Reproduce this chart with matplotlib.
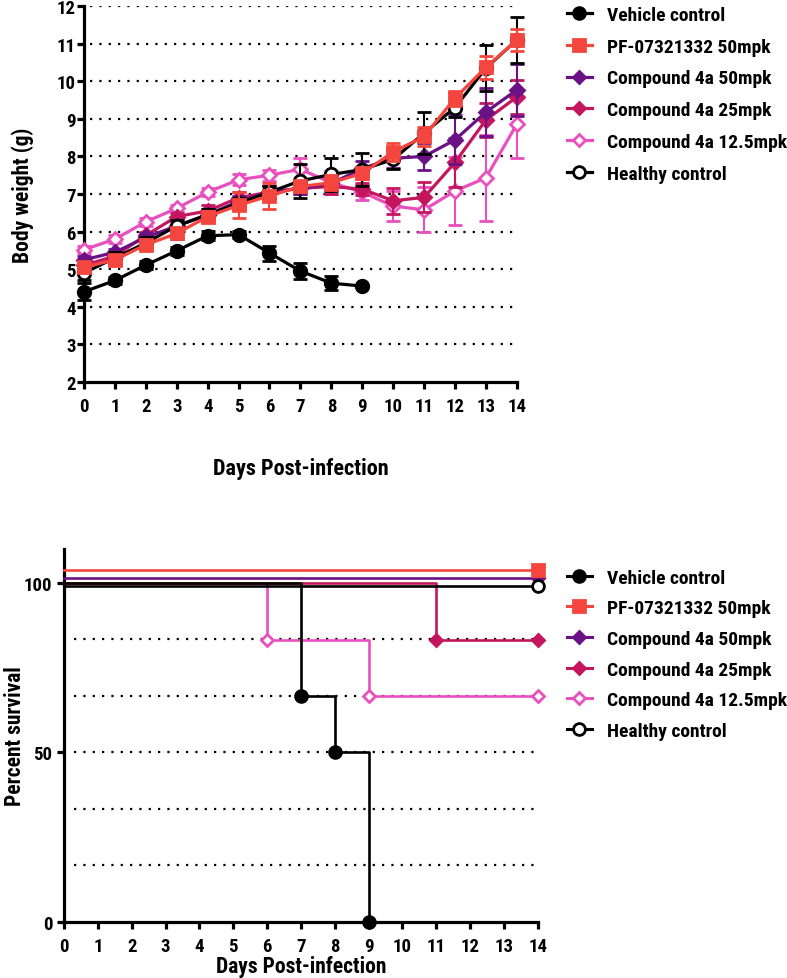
import numpy as np
import matplotlib
matplotlib.use("Agg")
import matplotlib.pyplot as plt
import matplotlib.transforms as mtransforms
from matplotlib.lines import Line2D
from matplotlib import font_manager

# fuente condensada si existe, si no Liberation Sans
_disp = set(f.name for f in font_manager.fontManager.ttflist)
_fams = [f for f in ['Roboto Condensed', 'Liberation Sans Narrow', 'Arial Narrow', 'Archivo Narrow',
                     'PT Sans Narrow', 'Liberation Sans'] if f in _disp]
plt.rcParams['font.family'] = _fams + ['DejaVu Sans']
plt.rcParams['font.weight'] = 'bold'

# Datos del peso corporal (g) por dia
dias = list(range(15))

series = ["Vehicle control", "PF-07321332 50mpk", "Compound 4a 50mpk",
          "Compound 4a 25mpk", "Compound 4a 12.5mpk", "Healthy control"]

peso_vehiculo = [4.40, 4.70, 5.11, 5.49, 5.89, 5.92, 5.43, 4.95, 4.63, 4.55]
err_vehiculo = [0.22, 0.10, 0.10, 0.10, 0.12, 0.10, 0.20, 0.22, 0.18, 0.0]

peso_pf = [5.05, 5.25, 5.65, 5.95, 6.40, 6.70, 6.95, 7.20, 7.30, 7.55, 8.12, 8.53, 9.55, 10.37, 11.10]
err_pf = [0.10, 0.10, 0.12, 0.15, 0.15, 0.35, 0.35, 0.15, 0.20, 0.15, 0.25, 0.25, 0.20, 0.30, 0.30]

peso_4a50 = [5.25, 5.45, 5.85, 6.15, 6.45, 6.80, 7.05, 7.15, 7.28, 7.68, 7.95, 8.00, 8.44, 9.18, 9.77]
err_4a50 = [0.10, 0.10, 0.10, 0.10, 0.15, 0.15, 0.15, 0.15, 0.15, 0.20, 0.25, 0.35, 0.65, 0.65, 0.70]

peso_4a25 = [5.10, 5.35, 5.90, 6.40, 6.55, 6.90, 7.05, 7.15, 7.20, 7.13, 6.82, 6.91, 7.84, 8.97, 9.58]
err_4a25 = [0.10, 0.10, 0.10, 0.10, 0.15, 0.15, 0.15, 0.15, 0.20, 0.15, 0.35, 0.40, 0.65, 0.45, 0.45]

peso_4a12 = [5.52, 5.80, 6.26, 6.62, 7.05, 7.38, 7.50, 7.66, 7.30, 7.05, 6.68, 6.58, 7.08, 7.43, 8.86]
err_4a12 = [0.10, 0.10, 0.10, 0.10, 0.10, 0.15, 0.15, 0.30, 0.30, 0.20, 0.40, 0.60, 0.90, 1.15, 0.90]

peso_sano = [4.90, 5.30, 5.70, 6.15, 6.45, 6.75, 7.05, 7.35, 7.52, 7.65, 7.92, 8.62, 9.30, 10.35, 11.10]
err_sano = [0.20, 0.15, 0.15, 0.15, 0.15, 0.15, 0.15, 0.45, 0.45, 0.45, 0.25, 0.55, 0.25, 0.62, 0.62]

# Supervivencia (%)
surv_dias_vehiculo = [0, 7, 8, 9]
surv_vehiculo = [100, 66.7, 50, 0]
surv_dias_pf = [0, 14]
surv_pf = [100, 100]
surv_dias_4a50 = [0, 14]
surv_4a50 = [100, 100]
surv_dias_4a25 = [0, 11, 14]
surv_4a25 = [100, 83.3, 83.3]
surv_dias_4a12 = [0, 6, 9, 14]
surv_4a12 = [100, 83.3, 66.7, 66.7]
surv_dias_sano = [0, 14]
surv_sano = [100, 100]

# estilos
colores = ['black', '#F4463F', '#6A1185', '#C4165E', '#E851BD', 'black']
marcadores = ['o', 's', 'D', 'D', 'D', 'o']
rellenos = ['black', '#F4463F', '#6A1185', '#C4165E', 'white', 'white']
tam_marc = [8.5, 8.5, 6.5, 6.5, 6.5, 8.5]
orden = [6, 9, 5, 4, 3, 7]
# desplazamiento vertical (puntos) como en el grafico de supervivencia original
desplazamiento = [0, 9.5, 3.6, 0, 0, -2.5]

pesos = [peso_vehiculo, peso_pf, peso_4a50, peso_4a25, peso_4a12, peso_sano]
errores = [err_vehiculo, err_pf, err_4a50, err_4a25, err_4a12, err_sano]
surv_dias = [surv_dias_vehiculo, surv_dias_pf, surv_dias_4a50, surv_dias_4a25, surv_dias_4a12, surv_dias_sano]
survs = [surv_vehiculo, surv_pf, surv_4a50, surv_4a25, surv_4a12, surv_sano]

fig = plt.figure(figsize=(7.87, 9.79), dpi=100)


def estilo_ejes(ax, pad_y):
    for s in ['top', 'right']:
        ax.spines[s].set_visible(False)
    for s in ['left', 'bottom']:
        ax.spines[s].set_linewidth(2.3)
    ax.tick_params(width=2.3, length=5, labelsize=13.5, direction='out')
    ax.tick_params(axis='x', pad=6)
    ax.tick_params(axis='y', pad=pad_y)
    for lab in ax.get_xticklabels() + ax.get_yticklabels():
        lab.set_fontweight('bold')


def handles_leyenda(lw):
    hs = []
    for i in range(len(series)):
        hs.append(Line2D([0], [0], color=colores[i], lw=lw, marker=marcadores[i],
                         markersize=tam_marc[i], markerfacecolor=rellenos[i],
                         markeredgecolor=colores[i], markeredgewidth=2))
    return hs


# ---- grafico de peso ----
ax1 = fig.add_axes([0.1067, 0.6088, 0.550, 0.384])
ax1.hlines(range(3, 13), 0.2, 14, colors='black', linestyles=(0, (1, 3.2)), linewidth=1.6, zorder=1)
for i in range(len(series)):
    x = dias[:len(pesos[i])]
    ax1.errorbar(x, pesos[i], yerr=errores[i], color=colores[i], lw=2.3,
                 marker=marcadores[i], markersize=tam_marc[i] + 0.5,
                 markerfacecolor=rellenos[i], markeredgecolor=colores[i],
                 markeredgewidth=2, capsize=5, elinewidth=1.5, capthick=1.5,
                 zorder=orden[i], clip_on=False)
ax1.set_xlim(0, 14)
ax1.set_ylim(2, 12)
ax1.set_xticks(dias)
ax1.set_yticks(range(2, 13))
estilo_ejes(ax1, 1)
ax1.set_ylabel("Body weight (g)", fontsize=15.5, fontweight='bold')
ax1.yaxis.set_label_coords(-0.115, 0.5)
ax1.set_xlabel("Days Post-infection", fontsize=16, fontweight='bold', labelpad=30)
ax1.legend(handles_leyenda(2.3), series, loc='upper left', bbox_to_anchor=(0.698, 1.011),
           bbox_transform=fig.transFigure, frameon=False, handlelength=1.29,
           labelspacing=0.71, handletextpad=0.77, prop={'weight': 'bold', 'size': 14})

# ---- grafico de supervivencia ----
ax2 = fig.add_axes([0.0813, 0.0572, 0.602, 0.381])
ax2.hlines([100 / 6, 200 / 6, 50, 400 / 6, 500 / 6], 0.3, 14, colors='black',
           linestyles=(0, (1, 3.2)), linewidth=1.6, zorder=1)
for i in range(len(series)):
    tr = mtransforms.offset_copy(ax2.transData, fig=fig, y=desplazamiento[i], units='points')
    ax2.step(surv_dias[i], survs[i], where='post', color=colores[i], lw=1.9,
             transform=tr, zorder=orden[i], clip_on=False)
    ax2.plot(surv_dias[i][1:], survs[i][1:], linestyle='none', marker=marcadores[i],
             markersize=tam_marc[i], markerfacecolor=rellenos[i], markeredgecolor=colores[i],
             markeredgewidth=2, transform=tr, zorder=orden[i] + 0.5, clip_on=False)
ax2.set_xlim(0, 14)
ax2.set_ylim(0, 110)
ax2.set_xticks(dias)
ax2.set_yticks([0, 50, 100])
estilo_ejes(ax2, 3.5)
ax2.set_ylabel("Percent survival", fontsize=15.5, fontweight='bold')
ax2.yaxis.set_label_coords(-0.08, 0.5)
ax2.set_xlabel("Days Post-infection", fontsize=15.5, fontweight='bold', labelpad=0)
ax2.legend(handles_leyenda(2.2), series, loc='upper left', bbox_to_anchor=(0.698, 0.436),
           bbox_transform=fig.transFigure, frameon=False, handlelength=1.29,
           labelspacing=0.65, handletextpad=0.77, prop={'weight': 'bold', 'size': 14})

fig.savefig("out.png", dpi=100)
